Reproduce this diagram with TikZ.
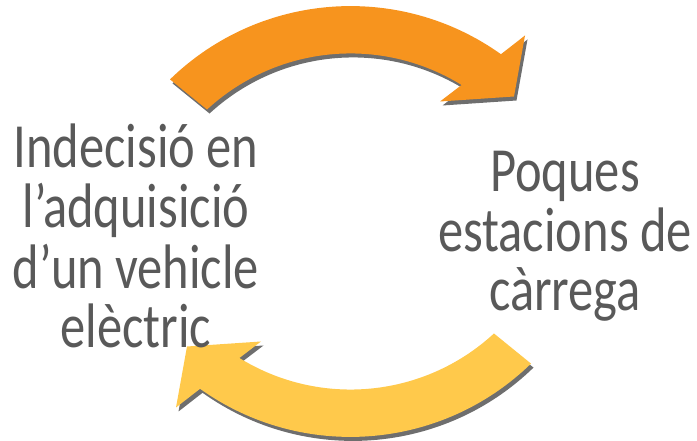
\documentclass[tikz,border=0pt]{standalone}
\usepackage{fontspec}
\setmainfont{Carlito}
\usepackage{graphicx}
\definecolor{arrorange}{HTML}{F7941E}
\definecolor{arryellow}{HTML}{FFC94B}
\definecolor{shadowgray}{HTML}{6E6E6E}
\definecolor{textgray}{HTML}{595959}
\tikzset{
  pics/curvedarrow/.style={code={
    \fill[#1] (-180.5,142.1) arc[start angle=134.2,end angle=54.5,radius=259pt]
      -- (174.5,186) -- (163.5,125) -- (89.5,120) -- (111.1,136.5)
      arc[start angle=58.3,end angle=132.7,radius=211.5pt] -- cycle;
  }},
  captiontext/.style={text=textgray, font=\fontsize{50.5}{43.1}\selectfont, anchor=base, inner sep=0pt}
}
\newcommand{\stretchblock}[1]{\scalebox{1}[1.245]{\begin{tabular}[t]{@{}c@{}}#1\end{tabular}}}
\begin{document}
\begin{tikzpicture}[x=1pt,y=1pt]
\useasboundingbox (0,0) rectangle (697,441);
% top arrow
\begin{scope}[shift={(353,215.5)},transform shape] \pic {curvedarrow=shadowgray}; \end{scope}
\begin{scope}[shift={(350.5,219.5)},transform shape] \pic {curvedarrow=arrorange}; \end{scope}
% bottom arrow
\begin{scope}[shift={(353,215.5)},rotate=180,transform shape] \pic {curvedarrow=shadowgray}; \end{scope}
\begin{scope}[shift={(350.5,219.5)},rotate=180,transform shape] \pic {curvedarrow=arryellow}; \end{scope}
% left text
\node[captiontext] (lefttext) at (136,273.7)
  {\stretchblock{Indecisió en\\ l’adquisició\\ d’un vehicle\\ elèctric}};
% right text
\node[captiontext] (righttext) at (565,249.3)
  {\stretchblock{Poques\\ estacions de\\ càrrega}};
\end{tikzpicture}
\end{document}
